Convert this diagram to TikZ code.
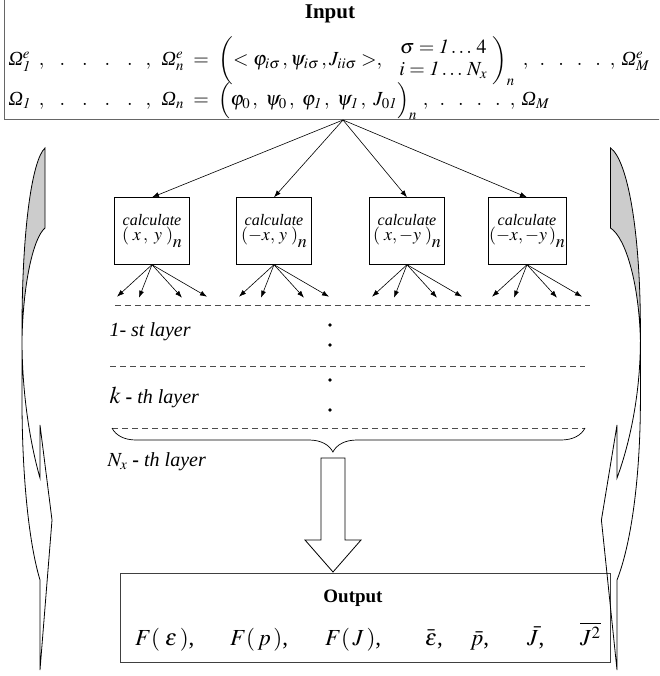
\documentclass[tikz,border=0pt]{standalone}
\usepackage{mathptmx}
\usepackage{fontspec}
\setmainfont{Liberation Serif}
\usetikzlibrary{arrows.meta,decorations.pathreplacing}
\newcommand{\Om}{\mbox{\itshape Ω}}
\newcommand{\leftdots}{,\hspace{13pt}.\hspace{17pt}.\hspace{17pt}.\hspace{17pt}.\hspace{13pt},}
\newcommand{\rightdots}{,\hspace{9pt}.\hspace{13pt}.\hspace{13pt}.\hspace{13pt}.\hspace{9pt},}
\tikzset{
	calcbox/.style={draw, minimum width=75pt, minimum height=67pt, align=center, inner sep=1pt},
	fanarrow/.style={-{Latex[length=7pt,width=5pt]}, line width=0.6pt},
	layerline/.style={draw=black!70, dash pattern=on 6pt off 4pt, line width=0.7pt},
	layertext/.style={anchor=west, font=\fontsize{20}{22}\selectfont\itshape},
	sidebrace/.pic={
		\fill[black!20] (45,148) -- (45,228) .. controls (33,238) and (23,285) .. (22,340) -- (22,330) .. controls (22,230) and (32,160) .. (45,148) -- cycle;
		\draw[line width=0.8pt] (45,148) -- (45,228) .. controls (33,238) and (23,285) .. (22,340) .. controls (22,400) and (32,450) .. (40,478) -- (40,425) -- (52,520) -- (40,670) -- (40,580) .. controls (28,540) and (22,470) .. (22,400) -- (22,330) .. controls (22,230) and (32,160) .. (45,148) -- cycle;
	}
}
\begin{document}
\begin{tikzpicture}[x=1pt, y=-1pt]
	\useasboundingbox (0,0) rectangle (659,676);
	\clip (0,0) rectangle (659,676);

	% input
	\draw[draw=black!60, line width=1pt] (4,-5) -- (4,120) -- (665,120);
	\node[font=\fontsize{21}{24}\selectfont\bfseries] at (330,14) (input) {Input};
	\node[anchor=west, font=\fontsize{20}{22}\selectfont] at (5,61) (omega-e) {$\Om^{e}_{\mathit{1}}\hspace{8pt}\leftdots\hspace{8pt}\Om^{e}_{n}\ =\ \left(<\varphi_{i\sigma}\,,\psi_{i\sigma}\,,J_{ii\sigma}>,\ \ \begin{array}{c}\sigma = \mathit{1}\ldots\,4\\ i = \mathit{1}\ldots\,N_{x}\end{array}\right)_{n}\hspace{6pt}\rightdots\hspace{4pt}\Om^{e}_{M}$};
	\node[anchor=west, font=\fontsize{20}{22}\selectfont] at (5,101) (omega) {$\Om_{\mathit{1}}\hspace{8pt}\leftdots\hspace{8pt}\Om_{n}\ =\ \Bigl(\varphi_{0}\,,\ \psi_{0}\,,\ \varphi_{\mathit{1}}\,,\ \psi_{\mathit{1}}\,,\ J_{0\mathit{1}}\Bigr)_{n}\hspace{6pt}\rightdots\hspace{4pt}\Om_{M}$};
	\coordinate (fan) at (343,120);

	% four calculations
	\node[calcbox] at (152,231) (calc-1) {\fontsize{16}{18}\selectfont\itshape calculate\\[1pt] \fontsize{18}{20}\selectfont$(\;x\,,\;y\;)$\raisebox{-7pt}{$n$}};
	\node[calcbox] at (274,231) (calc-2) {\fontsize{16}{18}\selectfont\itshape calculate\\[1pt] \fontsize{18}{20}\selectfont$(-x,\,y\;)$\raisebox{-7pt}{$n$}};
	\node[calcbox] at (407,231) (calc-3) {\fontsize{16}{18}\selectfont\itshape calculate\\[1pt] \fontsize{18}{20}\selectfont$(\;x,-y\;)$\raisebox{-7pt}{$n$}};
	\node[calcbox] at (527,231) (calc-4) {\fontsize{16}{18}\selectfont\itshape calculate\\[1pt] \fontsize{18}{20}\selectfont$(-x,-y\,)$\raisebox{-7pt}{$n$}};
	\foreach \i in {1,...,4}
		\draw[fanarrow] (fan) -- (calc-\i.north);

	% down to the first layer
	\foreach \i in {1,...,4}
		\foreach \dx/\dy [count=\k] in {-35/32,-13/33,30/33,55/32} {
			\coordinate (tip-\i-\k) at ([shift={(\dx,\dy)}]calc-\i.south);
			\draw[fanarrow] (calc-\i.south) -- (tip-\i-\k);
		}

	% layers
	\draw[layerline] (115,305) -- (590,305);
	\draw[layerline] (110,366) -- (585,366);
	\draw[layerline] (112,428) -- (585,428);
	\draw[line width=0.7pt, decorate, decoration={brace, amplitude=24pt, aspect=0.533}] (585,428) -- (112,428);
	\foreach \y in {325,345,380,410}
		\fill (330,\y) circle (1.8);
	\node[layertext] at (106,332) (layer-1) {1- st layer};
	\node[layertext] at (106,397) (layer-k) {{\upshape\fontsize{24}{26}\selectfont$k$} {\upshape\bfseries -} th layer};
	\node[layertext] at (104,462) (layer-n) {{\upshape$N_{x}$} {\upshape\bfseries -} th layer};

	% big arrow
	\draw[line width=0.8pt, fill=white] (321,458) -- (345,458) -- (345,540) -- (361,540) -- (333,572) -- (305,540) -- (321,540) -- cycle;

	% output
	\node[draw=black!75, line width=1pt, minimum width=490pt, minimum height=89pt, anchor=north west] at (120,573) (output) {};
	\node[font=\fontsize{19}{22}\selectfont\bfseries] at (353,598) (output-title) {Output};
	\foreach \x/\t [count=\k] in {135/{$F(\;\varepsilon\,)$,}, 230/{$F(\,p\,)$,}, 325/{$F(\,J\,)$,}, 425/{$\bar{\varepsilon}$,}, 470/{$\bar{p}$,}, 527/{$\bar{J}$,}, 580/{$\overline{J^{2}}$}}
		\node[anchor=base west, inner sep=0pt, font=\fontsize{23}{26}\selectfont] at (\x,645) (result-\k) {\t};

	% side braces
	\pic at (0,0) {sidebrace};
	\pic[xscale=-1.3] at (669,0) {sidebrace};
\end{tikzpicture}
\end{document}
